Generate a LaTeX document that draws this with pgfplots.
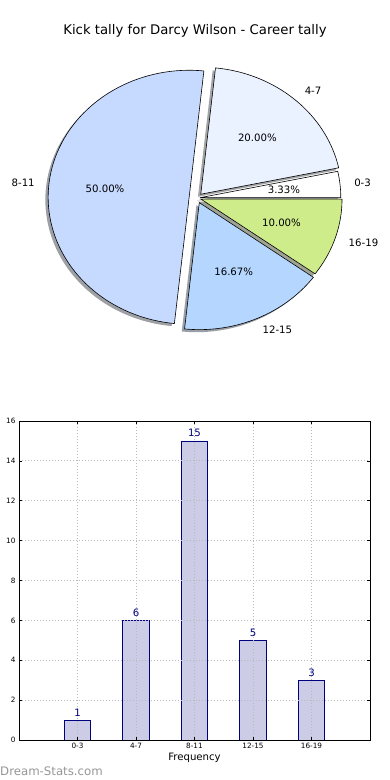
\documentclass[border=0pt]{standalone}
\usepackage{fontspec}
\setmainfont{DejaVu Sans}
\usepackage{pgfplots}
\pgfplotsset{compat=1.18}

\definecolor{c03}{RGB}{255,255,255}
\definecolor{c47}{RGB}{235,242,255}
\definecolor{c811}{RGB}{198,217,255}
\definecolor{c1215}{RGB}{180,214,255}
\definecolor{c1619}{RGB}{207,236,139}
\definecolor{barfill}{RGB}{204,204,230}
\definecolor{baredge}{RGB}{0,0,128}
\definecolor{wm}{RGB}{150,150,150}
\definecolor{gridc}{RGB}{185,185,185}

\newcommand\lblfont{\fontsize{10.2}{12}\selectfont}
\def\cx{197}\def\cy{582}\def\rx{141}\def\ry{127}

% #1 start angle, #2 end angle, #3 explode, #4 colour
\newcommand\shadowslice[4]{%
  \pgfmathsetmacro\mid{(#1+#2)/2}%
  \pgfmathsetmacro\ex{\cx+#3*\rx*cos(\mid)-0.02*\rx}%
  \pgfmathsetmacro\ey{\cy+#3*\ry*sin(\mid)-0.02*\ry}%
  \edef\doit{\noexpand\addplot[draw=none, fill=#4!30!black, fill opacity=0.5,
     domain=#1:#2, samples=80, variable=\noexpand\t]
     ({\ex+\rx*cos(\noexpand\t)},{\ey+\ry*sin(\noexpand\t)}) -- (axis cs:\ex,\ey) -- cycle;}%
  \doit}
% #1 start, #2 end, #3 explode, #4 colour, #5 label, #6 pct, #7 anchor
\newcommand\slice[7]{%
  \pgfmathsetmacro\mid{(#1+#2)/2}%
  \pgfmathsetmacro\ex{\cx+#3*\rx*cos(\mid)}%
  \pgfmathsetmacro\ey{\cy+#3*\ry*sin(\mid)}%
  \pgfmathsetmacro\lx{\ex+1.1*\rx*cos(\mid)}%
  \pgfmathsetmacro\ly{\ey+1.1*\ry*sin(\mid)}%
  \pgfmathsetmacro\px{\ex+0.6*\rx*cos(\mid)}%
  \pgfmathsetmacro\py{\ey+0.6*\ry*sin(\mid)}%
  \edef\doit{\noexpand\addplot[draw=black, line width=0.6bp, fill=#4,
     domain=#1:#2, samples=80, variable=\noexpand\t]
     ({\ex+\rx*cos(\noexpand\t)},{\ey+\ry*sin(\noexpand\t)}) -- (axis cs:\ex,\ey) -- cycle;
     \noexpand\node[font=\noexpand\lblfont, anchor=#7, inner sep=0pt] at (axis cs:\lx,\ly) {#5};
     \noexpand\node[font=\noexpand\lblfont, inner sep=0pt] at (axis cs:\px,\py) {#6};}%
  \doit}

\begin{document}
\begin{tikzpicture}
\node[anchor=base, font=\fontsize{13.3}{15}\selectfont] at (195bp,745bp) {Kick tally for Darcy Wilson - Career tally};

% pie values: 0-3:1, 4-7:6, 8-11:15, 12-15:5, 16-19:3
\pgfmathsetmacro\tot{1+6+15+5+3}
\pgfmathsetmacro\aA{0}
\pgfmathsetmacro\aB{\aA+360*1/\tot}
\pgfmathsetmacro\aC{\aB+360*6/\tot}
\pgfmathsetmacro\aD{\aC+360*15/\tot}
\pgfmathsetmacro\aE{\aD+360*5/\tot}
\pgfmathsetmacro\aF{\aE+360*3/\tot}

\begin{axis}[at={(0bp,0bp)}, anchor=south west, scale only axis,
  width=390bp, height=780bp, xmin=0, xmax=390, ymin=0, ymax=780,
  hide axis, clip=false]
\shadowslice{\aA}{\aB}{0.02}{c03}
\shadowslice{\aB}{\aC}{0.04}{c47}
\shadowslice{\aC}{\aD}{0.056}{c811}
\shadowslice{\aD}{\aE}{0.04}{c1215}
\shadowslice{\aE}{\aF}{0.03}{c1619}
\slice{\aA}{\aB}{0.02}{c03}{0-3}{3.33\%}{west}
\slice{\aB}{\aC}{0.04}{c47}{4-7}{20.00\%}{west}
\slice{\aC}{\aD}{0.056}{c811}{8-11}{50.00\%}{east}
\slice{\aD}{\aE}{0.04}{c1215}{12-15}{16.67\%}{west}
\slice{\aE}{\aF}{0.03}{c1619}{16-19}{10.00\%}{west}
\end{axis}

\begin{axis}[at={(19bp,40bp)}, anchor=south west, scale only axis,
  width=351bp, height=319bp,
  xmin=-1, xmax=5, ymin=0, ymax=16,
  xtick={0,1,2,3,4}, xticklabels={0-3,4-7,8-11,12-15,16-19},
  ytick={0,2,...,16},
  /pgf/number format/assume math mode=true,
  tick label style={font=\fontsize{7.3}{9}\selectfont},
  tick align=inside, major tick length=3bp,
  tick style={black, line width=0.5bp},
  axis line style={line width=0.8bp},
  grid=major,
  grid style={gridc, dash pattern=on 1bp off 2bp, line width=0.8bp},
  axis on top,
  xlabel={Frequency},
  xlabel style={font=\lblfont, yshift=3bp},
  ylabel={Stat Mean Tally},
  every axis y label/.style={at={(axis description cs:-0.044,0.5)}, rotate=90, anchor=south, font=\lblfont},
]
\addplot[ybar, bar width=0.45, fill=barfill, draw=baredge, line width=0.7bp,
  nodes near coords,
  nodes near coords style={font=\fontsize{10.2}{12}\selectfont, text=baredge, inner sep=1bp, anchor=south, yshift=2.5bp}]
  coordinates {(0,1) (1,6) (2,15) (3,5) (4,3)};
\end{axis}

\node[anchor=base west, inner sep=0pt, text=wm, font=\fontsize{11.8}{13}\selectfont] at (0bp,5bp) {Dream-Stats.com};
\pgfresetboundingbox
\useasboundingbox (0bp,0bp) rectangle (390bp,780bp);
\end{tikzpicture}
\end{document}
